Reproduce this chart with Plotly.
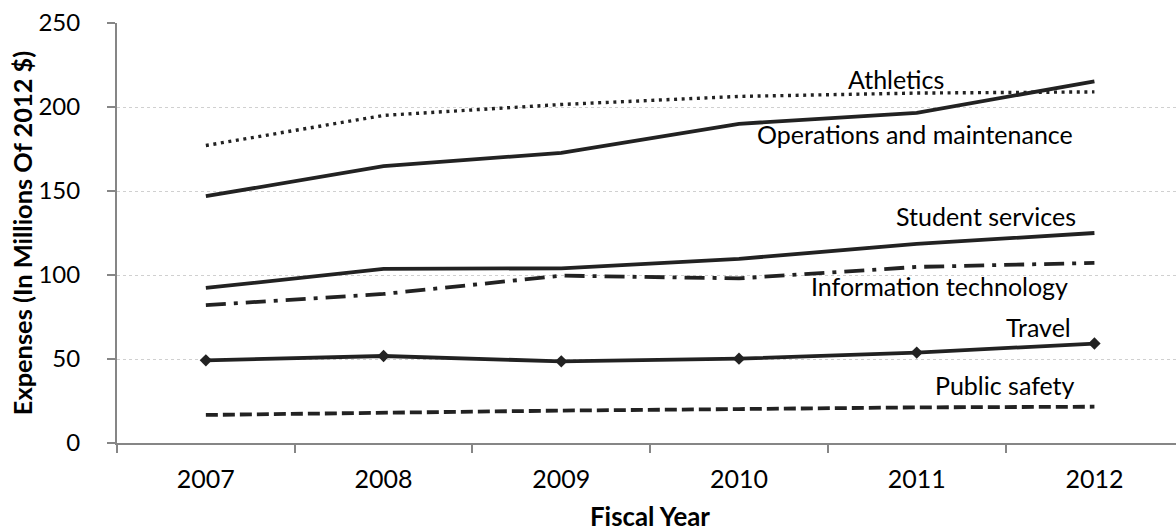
import plotly.graph_objects as go

years = ["2007", "2008", "2009", "2010", "2011", "2012"]
athletics = [177.1, 195.0, 201.5, 206.3, 208.3, 209.0]
operations = [146.9, 164.8, 172.7, 190.0, 196.5, 215.3]
student_services = [92.3, 103.6, 104.0, 109.6, 118.5, 125.0]
info_tech = [82.1, 88.7, 99.6, 98.0, 104.8, 107.2]
travel = [49.2, 51.8, 48.6, 50.2, 53.8, 59.2]
public_safety = [16.7, 18.1, 19.3, 20.2, 21.2, 21.6]

y_ticks = [0, 50, 100, 150, 200, 250]

LINE = "#222222"
AXIS = "#868686"
FONT = "Lato"

fig = go.Figure()

series = [
    ("Athletics", athletics, dict(dash="3px,4.6px", width=3.4), None),
    ("Operations and maintenance", operations, dict(width=3.8), None),
    ("Student services", student_services, dict(width=3.8), None),
    ("Information technology", info_tech, dict(dash="20px,8px,4px,8px", width=3.8), None),
    ("Travel", travel, dict(width=3.8), dict(symbol="diamond", size=9.5, color=LINE)),
    ("Public safety", public_safety, dict(dash="12px,5px", width=3.8), None),
]

for name, vals, line, marker in series:
    fig.add_trace(go.Scatter(
        x=years, y=vals, name=name,
        mode="lines+markers" if marker else "lines",
        line=dict(color=LINE, **line),
        marker=marker,
        showlegend=False,
        hoverinfo="x+y+name",
    ))

# label placement (category index, value, anchor)
label_specs = [
    ("Athletics", 3.881, 216.8, "center"),
    ("Operations and maintenance", 4.893, 183.8, "right"),
    ("Student services", 4.910, 135.4, "right"),
    ("Information technology", 4.865, 93.5, "right"),
    ("Travel", 4.882, 69.0, "right"),
    ("Public safety", 4.904, 34.8, "right"),
]
annotations = []
for text, xi, yv, anchor in label_specs:
    annotations.append(dict(
        x=xi, y=yv, xref="x", yref="y", text=text, showarrow=False,
        xanchor=anchor, yanchor="middle",
        font=dict(family=FONT, size=25, color="#000000"),
    ))

annotations.append(dict(
    x=0.5035, y=-0.1745, xref="paper", yref="paper", text="<b>Fiscal Year</b>",
    showarrow=False, xanchor="center", yanchor="middle",
    font=dict(family=FONT, size=25.8, color="#000000"),
))
annotations.append(dict(
    x=-0.0895, y=0.5, xref="paper", yref="paper",
    text="<b>Expenses (In Millions Of 2012 $)</b>",
    showarrow=False, xanchor="center", yanchor="middle", textangle=-90,
    font=dict(family=FONT, size=25.4, color="#000000"),
))

fig.update_layout(
    width=1176, height=531,
    margin=dict(l=116.5, r=0, t=22.7, b=88.3, autoexpand=False),
    paper_bgcolor="white", plot_bgcolor="white",
    font=dict(family=FONT, size=24, color="#000000"),
    annotations=annotations,
    xaxis=dict(
        type="category", categoryorder="array", categoryarray=years,
        range=[-0.5, 5.459], tickson="boundaries",
        ticks="outside", ticklen=8, tickwidth=2, tickcolor=AXIS,
        ticklabelstandoff=13,
        showline=True, linecolor=AXIS, linewidth=2,
        showgrid=False, zeroline=False, automargin=False,
        tickfont=dict(family=FONT, size=25, color="#000000"),
    ),
    yaxis=dict(
        range=[0, 250], tickvals=y_ticks,
        ticks="outside", ticklen=8, tickwidth=2, tickcolor=AXIS,
        ticklabelstandoff=22,
        showline=True, linecolor=AXIS, linewidth=2,
        showgrid=True, gridcolor="#d0d0d0", griddash="dot", gridwidth=1,
        zeroline=False, automargin=False,
        tickfont=dict(family=FONT, size=24, color="#000000"),
    ),
)

fig.write_html(
    "out.html",
    config={"displayModeBar": False},
    post_script="document.body.style.margin='0';document.body.style.overflow='hidden';",
)
